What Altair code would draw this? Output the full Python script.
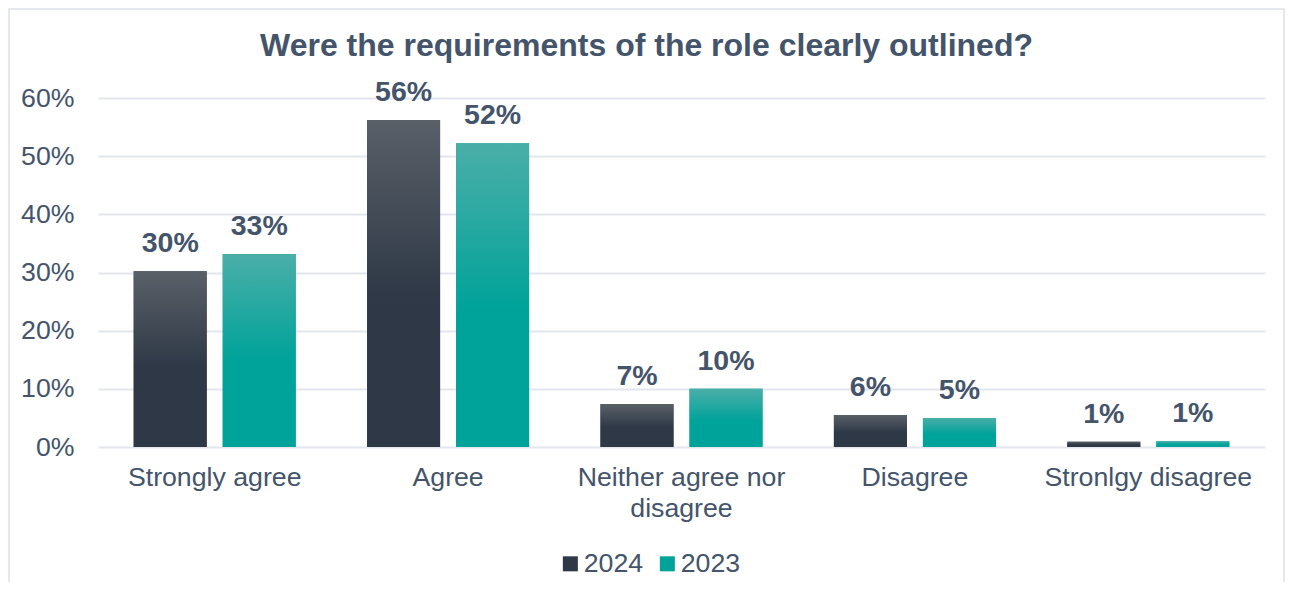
import altair as alt
import pandas as pd

categories = ["Strongly agree", "Agree", "Neither agree nor disagree", "Disagree", "Stronlgy disagree"]
years = ["2024", "2023"]
values_2024 = [0.302, 0.562, 0.074, 0.055, 0.009]
values_2023 = [0.332, 0.522, 0.100, 0.050, 0.010]
labels_2024 = ["30%", "56%", "7%", "6%", "1%"]
labels_2023 = ["33%", "52%", "10%", "5%", "1%"]
y_ticks = [0, 0.1, 0.2, 0.3, 0.4, 0.5, 0.6]

rows = []
for c, v, l in zip(categories, values_2024, labels_2024):
    rows.append({"category": c, "year": "2024", "value": v, "label": l})
for c, v, l in zip(categories, values_2023, labels_2023):
    rows.append({"category": c, "year": "2023", "value": v, "label": l})
df = pd.DataFrame(rows)

TXT = "#44546A"
FONT = "Liberation Sans"
DARK = "#2e3846"
TEAL = "#00a39a"

grad_dark = alt.Gradient(gradient="linear", x1=0, x2=0, y1=0, y2=1,
                         stops=[alt.GradientStop(offset=0, color="#5a6068"),
                                alt.GradientStop(offset=0.55, color=DARK),
                                alt.GradientStop(offset=1, color=DARK)])
grad_teal = alt.Gradient(gradient="linear", x1=0, x2=0, y1=0, y2=1,
                         stops=[alt.GradientStop(offset=0, color="#4aaea8"),
                                alt.GradientStop(offset=0.55, color=TEAL),
                                alt.GradientStop(offset=1, color=TEAL)])

x_enc = alt.X("category:N", sort=categories, title=None,
              scale=alt.Scale(paddingInner=0, paddingOuter=0),
              axis=alt.Axis(labelAngle=0, domain=False, ticks=False, labelFontSize=26.7,
                            labelColor=TXT, labelFont=FONT, labelPadding=17,
                            labelLineHeight=31, labelBaseline="top", labelLimit=0,
                            labelExpr="datum.label == 'Neither agree nor disagree' ? ['Neither agree nor', 'disagree'] : datum.label"))
xo_enc = alt.XOffset("year:N", sort=years,
                     scale=alt.Scale(paddingInner=0.18, paddingOuter=0.401))
y_enc = alt.Y("value:Q", title=None,
              scale=alt.Scale(domain=[0, 0.6], nice=False),
              axis=alt.Axis(values=y_ticks, format=".0%", domain=False, ticks=False,
                            labelFontSize=26.7, labelColor=TXT, labelFont=FONT,
                            labelPadding=24, gridColor="#e3e6ec", gridWidth=2))

base = alt.Chart(df)

# decorative outer frame of the chart
frame = alt.Chart(alt.Data(values=[{}])).mark_rect(
    fill="transparent", stroke="#dde1e7", strokeWidth=1.5
).encode(x=alt.value(-89), x2=alt.value(1186), y=alt.value(-89), y2=alt.value(520))

legend_bars = base.mark_bar().encode(
    x=x_enc, xOffset=xo_enc, y=y_enc,
    color=alt.Color("year:N", sort=years,
                    scale=alt.Scale(domain=years, range=[DARK, TEAL]),
                    legend=alt.Legend(title=None, orient="none", direction="horizontal",
                                      legendX=459, legendY=452, symbolType="square",
                                      symbolSize=225, symbolStrokeWidth=0,
                                      labelFontSize=26.7, labelColor=TXT, labelFont=FONT,
                                      labelLimit=0, labelOffset=0, columnPadding=10,
                                      padding=0)),
)

grad_bars = base.mark_bar().encode(
    x=x_enc, xOffset=xo_enc, y=y_enc,
    fill=alt.condition("datum.year == '2024'", alt.value(grad_dark), alt.value(grad_teal)),
)

texts = base.mark_text(fontSize=28.5, fontWeight="bold", color=TXT, font=FONT,
                       baseline="alphabetic", dy=-19).encode(
    x=x_enc, xOffset=xo_enc, y=y_enc, text="label:N"
)

chart = alt.layer(frame, legend_bars, grad_bars, texts).properties(
    width=1167, height=349,
    background="white",
    title=alt.TitleParams("Were the requirements of the role clearly outlined?",
                          fontSize=32, fontWeight="bold", color=TXT, font=FONT,
                          anchor="middle", frame="bounds", offset=-55),
    autosize=alt.AutoSizeParams(type="none"),
    padding={"left": 90, "top": 90, "right": 20, "bottom": 135},
).configure_view(stroke=None)

chart.save("out.html", embed_options={"renderer": "svg", "actions": False})
